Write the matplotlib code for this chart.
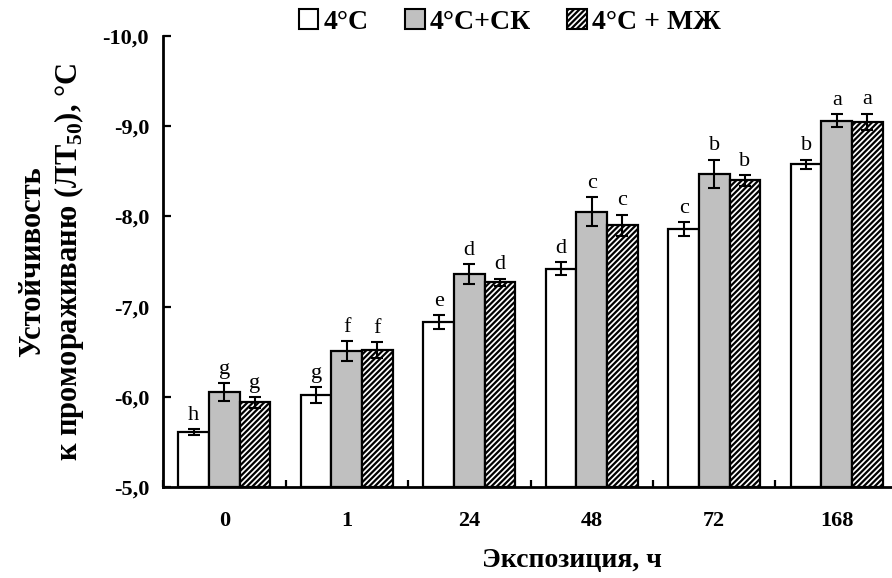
import numpy as np
import matplotlib.pyplot as plt
from matplotlib.patches import Patch
from matplotlib.ticker import FuncFormatter

plt.rcParams['font.family'] = ['Liberation Serif', 'DejaVu Serif']
plt.rcParams['mathtext.fontset'] = 'custom'
plt.rcParams['mathtext.rm'] = 'Liberation Serif:bold'
plt.rcParams['mathtext.bf'] = 'Liberation Serif:bold'
plt.rcParams['hatch.linewidth'] = 1.6

# Экспозиция, ч
grupos = ['0', '1', '24', '48', '72', '168']
series = ['4°С', '4°С+СК', '4°С + МЖ']

# ЛТ50, °С
lt_4c = [-5.61, -6.02, -6.83, -7.42, -7.86, -8.58]
lt_sk = [-6.05, -6.51, -7.36, -8.05, -8.47, -9.06]
lt_mzh = [-5.94, -6.52, -7.27, -7.90, -8.40, -9.05]

err_4c = [0.03, 0.09, 0.08, 0.07, 0.08, 0.05]
err_sk = [0.10, 0.11, 0.11, 0.16, 0.16, 0.07]
err_mzh = [0.06, 0.09, 0.04, 0.12, 0.06, 0.09]

letras_4c = ['h', 'g', 'e', 'd', 'c', 'b']
letras_sk = ['g', 'f', 'd', 'c', 'b', 'a']
letras_mzh = ['g', 'f', 'd', 'c', 'b', 'a']

fig = plt.figure(figsize=(8.92, 5.78), dpi=100)
ax = fig.add_axes([163/892, 91/578, 735/892, 451/578])

x = np.arange(len(grupos))
ancho = 0.25
base = -5.0

datos = [
    (lt_4c, err_4c, letras_4c, 'white', None),
    (lt_sk, err_sk, letras_sk, '#C0C0C0', None),
    (lt_mzh, err_mzh, letras_mzh, 'white', '//////'),
]

for i, (val, err, letras, color, hatch) in enumerate(datos):
    pos = x + (i - 1) * ancho
    alto = np.array(val) - base
    ax.bar(pos, alto, ancho, bottom=base, color=color, edgecolor='black',
           linewidth=1.6, hatch=hatch, zorder=2)
    ax.errorbar(pos, val, yerr=err, fmt='none', ecolor='black',
                elinewidth=1.5, capsize=4.5, capthick=1.5, zorder=3)
    for p, v, e, l in zip(pos, val, err, letras):
        ax.annotate(l, (p, v - e), xytext=(0, 3), textcoords='offset points',
                    ha='center', va='bottom', fontsize=16)

# Ejes
ax.set_ylim(-5, -10)
ax.set_xlim(-0.5, len(grupos) - 0.5)
ax.set_yticks(np.arange(-5, -10.5, -1))
ax.yaxis.set_major_formatter(FuncFormatter(lambda v, p: f'{v:.1f}'.replace('.', ',')))
ax.set_xticks(np.arange(-0.5, len(grupos), 1))
ax.set_xticklabels([])
ax.set_xticks(x, minor=True)
ax.set_xticklabels(grupos, minor=True)
ax.tick_params(axis='x', which='major', direction='in', length=5, width=1.6)
ax.tick_params(axis='x', which='minor', length=0, pad=17, labelsize=16)
ax.tick_params(axis='y', direction='in', length=6, width=1.6, pad=10, labelsize=16)
for t in ax.get_xticklabels(minor=True) + ax.get_yticklabels():
    t.set_fontweight('bold')

for s in ['top', 'right']:
    ax.spines[s].set_visible(False)
for s in ['left', 'bottom']:
    ax.spines[s].set_linewidth(2)

ax.set_ylabel('Устойчивость\nк промораживаню (ЛТ$_{50}$), °С',
              fontsize=22, fontweight='bold', labelpad=12, linespacing=1.2)
ax.set_xlabel('Экспозиция, ч', fontsize=20, fontweight='bold', va='center')
ax.xaxis.set_label_coords((572 - 163) / 735, (487 - 560) / 451)

# Leyenda
handles = [
    Patch(facecolor='white', edgecolor='black', linewidth=1.5),
    Patch(facecolor='#C0C0C0', edgecolor='black', linewidth=1.5),
    Patch(facecolor='white', edgecolor='black', linewidth=1.5, hatch='//////'),
]
fig.legend(handles, series, loc='center', bbox_to_anchor=(510/892, 1 - 22/578),
           ncol=3, frameon=False, prop={'weight': 'bold', 'size': 20},
           handlelength=0.7, handleheight=0.7, handletextpad=0.2, columnspacing=1.3)

plt.savefig('out.png', dpi=100)
